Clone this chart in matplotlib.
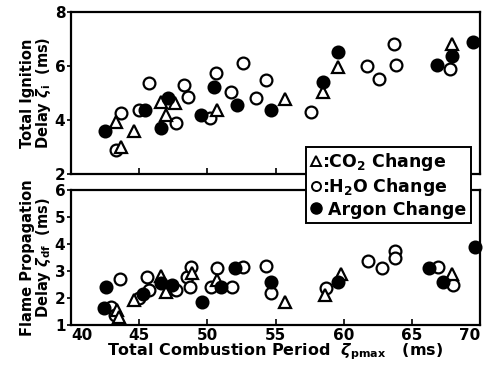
import matplotlib
matplotlib.use('Agg')
import matplotlib.pyplot as plt
from matplotlib.lines import Line2D

plt.rcParams['font.family'] = ['DejaVu Sans']
plt.rcParams['font.weight'] = 'bold'
plt.rcParams['mathtext.fontset'] = 'dejavusans'

# Top panel: total ignition delay (ms) vs total combustion period (ms)
ign_co2_x = [43.3, 43.7, 44.6, 46.6, 47.6, 47.0, 50.7, 55.7, 58.5, 59.6, 67.9]
ign_co2_y = [3.92, 2.98, 3.58, 4.67, 4.63, 4.18, 4.37, 4.78, 5.04, 5.94, 6.80]
ign_h2o_x = [43.7, 43.3, 45.0, 45.7, 47.7, 48.3, 48.6, 50.2, 50.6, 51.7, 52.6,
             53.6, 54.3, 57.6, 61.7, 62.6, 63.7, 63.8, 67.8]
ign_h2o_y = [4.25, 2.90, 4.37, 5.38, 3.88, 5.30, 4.85, 4.07, 5.72, 5.04, 6.09,
             4.82, 5.49, 4.29, 6.00, 5.53, 6.80, 6.05, 5.87]
ign_ar_x = [42.5, 45.4, 46.6, 47.1, 49.5, 50.5, 52.2, 54.7, 58.5, 59.6, 66.8, 67.9, 69.5]
ign_ar_y = [3.58, 4.37, 3.70, 4.80, 4.18, 5.23, 4.55, 4.37, 5.42, 6.50, 6.05, 6.35, 6.88]

# Bottom panel: flame propagation delay (ms)
fl_co2_x = [43.4, 43.5, 44.6, 46.6, 47.0, 48.9, 50.7, 55.7, 58.6, 59.8, 67.9]
fl_co2_y = [1.56, 1.30, 1.93, 2.81, 2.22, 2.92, 2.67, 1.85, 2.11, 2.89, 2.89]
fl_h2o_x = [43.6, 42.9, 43.2, 45.0, 45.7, 45.6, 47.7, 48.5, 48.8, 48.7, 50.7, 50.3,
            51.8, 52.6, 54.3, 54.7, 58.7, 61.8, 62.8, 63.75, 63.75, 66.9, 68.0]
fl_h2o_y = [2.70, 1.67, 1.37, 2.00, 2.30, 2.78, 2.30, 2.78, 3.15, 2.41, 3.11, 2.41,
            2.41, 3.15, 3.19, 2.19, 2.37, 3.37, 3.11, 3.74, 3.48, 3.15, 2.48]
fl_ar_x = [42.6, 42.4, 45.3, 46.6, 47.4, 49.6, 51.0, 52.0, 54.7, 59.6, 66.25, 67.3, 69.6]
fl_ar_y = [2.41, 1.63, 2.15, 2.56, 2.48, 1.85, 2.41, 3.11, 2.59, 2.59, 3.11, 2.59, 3.89]

fig = plt.figure(figsize=(4.86, 3.70), dpi=100)
ax1 = fig.add_axes([0.146, 0.530, 0.842, 0.438])
ax2 = fig.add_axes([0.146, 0.122, 0.842, 0.365])

ms = 8.5
mew = 1.6


def draw(ax, cx, cy, hx, hy, ax_, ay_):
    ax.plot(hx, hy, 'o', ms=ms, mfc='white', mec='black', mew=mew, ls='none', clip_on=False)
    ax.plot(cx, cy, '^', ms=ms, mfc='white', mec='black', mew=mew, ls='none', clip_on=False)
    ax.plot(ax_, ay_, 'o', ms=ms, mfc='black', mec='black', mew=mew, ls='none', clip_on=False)


draw(ax1, ign_co2_x, ign_co2_y, ign_h2o_x, ign_h2o_y, ign_ar_x, ign_ar_y)
draw(ax2, fl_co2_x, fl_co2_y, fl_h2o_x, fl_h2o_y, fl_ar_x, fl_ar_y)

for ax in (ax1, ax2):
    ax.set_xlim(40, 70)
    ax.set_xticks([45, 50, 55, 60, 65])
    for s in ax.spines.values():
        s.set_linewidth(1.6)
    ax.tick_params(axis='x', direction='in', length=4, width=1.2, top=False)
    ax.tick_params(axis='y', direction='out', length=3, width=1.2, labelsize=11, pad=1)

ax1.set_ylim(2, 8)
ax1.set_yticks([2, 4, 6, 8])
ax1.tick_params(axis='x', labelbottom=False)
ax1.set_ylabel('Total Ignition\nDelay $\\zeta_\\mathbf{i}$  (ms)', fontsize=10.5,
               fontweight='bold', linespacing=0.95, labelpad=1)

ax2.set_ylim(1, 6)
ax2.set_yticks([1, 2, 3, 4, 5, 6])
ax2.set_xticks([40, 45, 50, 55, 60, 65, 70])
ax2.tick_params(axis='x', labelsize=11, pad=2)
ax2.set_ylabel('Flame Propagation\nDelay $\\zeta_{\\mathbf{df}}$  (ms)', fontsize=10.5,
               fontweight='bold', linespacing=0.95, labelpad=1)
ax2.set_xlabel('Total Combustion Period  $\\zeta_{\\mathbf{pmax}}$   (ms)', fontsize=11.5,
               fontweight='bold', labelpad=-1)
xt = ax2.get_xticklabels()
xt[0].set_horizontalalignment('left')
xt[-1].set_horizontalalignment('right')

handles = [
    Line2D([], [], marker='^', ls='none', ms=6.5, mfc='white', mec='black', mew=1.4),
    Line2D([], [], marker='o', ls='none', ms=6.5, mfc='white', mec='black', mew=1.4),
    Line2D([], [], marker='o', ls='none', ms=8, mfc='black', mec='black'),
]
labels = [':CO$_\\mathbf{2}$ Change', ':H$_\\mathbf{2}$O Change', ' Argon Change']
leg = fig.legend(handles, labels, loc='upper left', bbox_to_anchor=(306 / 486, 1 - 147 / 370),
                 frameon=True, fancybox=False, edgecolor='black', facecolor='white',
                 framealpha=1, handlelength=0.6, handletextpad=0.1, borderpad=0.25,
                 borderaxespad=0, labelspacing=0.15, prop={'size': 12.5, 'weight': 'bold'})
leg.get_frame().set_linewidth(1.4)
leg.set_zorder(10)

plt.savefig('out.png', dpi=100)
